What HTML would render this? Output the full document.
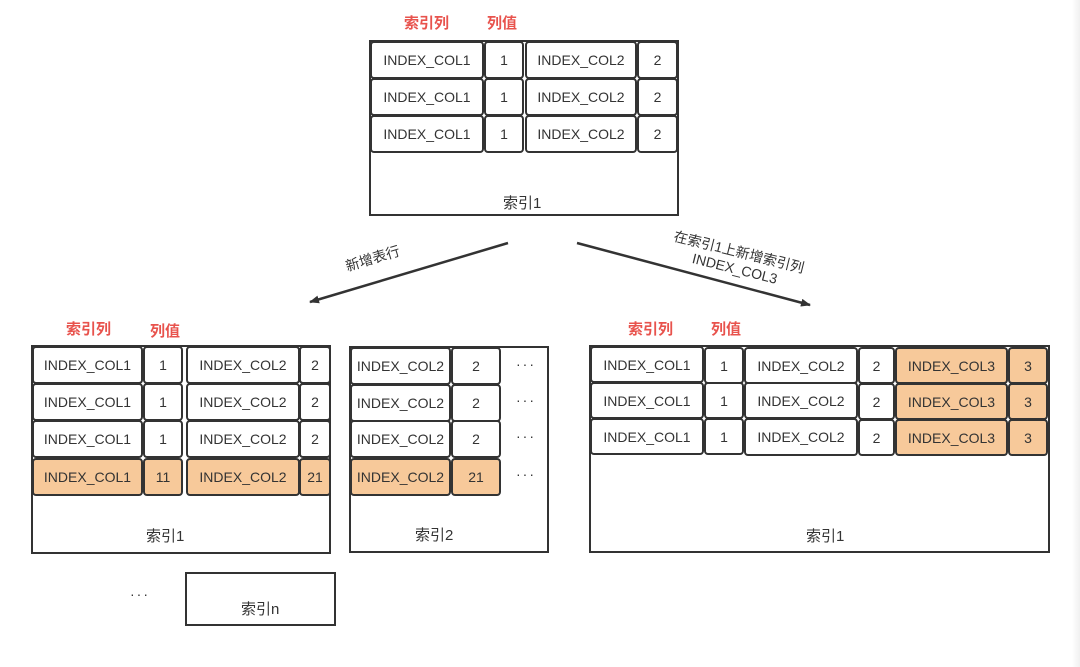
<!DOCTYPE html>
<html><head><meta charset="utf-8"><style>
body{margin:0;width:1080px;height:667px;background:#fff;position:relative;overflow:hidden;font-family:"Liberation Sans","Noto Sans CJK SC",sans-serif;color:#333}
.b{position:absolute;border:2px solid #333;box-sizing:border-box;background:#fff}
.c{position:absolute;border:2px solid #333;border-radius:4px;box-sizing:border-box;background:#fff;display:flex;align-items:center;justify-content:center;font-size:14px;color:#333}
.o{background:#f7c99a}
.t{position:absolute;font-size:15px;color:#333}
.r{position:absolute;font-size:15px;color:#e8534d;font-weight:bold}
.d{position:absolute;font-size:14px;letter-spacing:2px;color:#333}
</style></head><body>
<div style="position:absolute;right:0;top:0;width:8px;height:667px;background:linear-gradient(to right,#fff,#f0f0f0)"></div>
<div class="r" style="left:404px;top:12px">索引列</div><div class="r" style="left:487px;top:12px">列值</div>
<div class="b" style="left:369px;top:40px;width:310px;height:176px"></div>
<div class="c" style="left:370px;top:41px;width:114px;height:38px">INDEX_COL1</div><div class="c" style="left:484px;top:41px;width:40px;height:38px">1</div><div class="c" style="left:525px;top:41px;width:112px;height:38px">INDEX_COL2</div><div class="c" style="left:637px;top:41px;width:41px;height:38px">2</div>
<div class="c" style="left:370px;top:78px;width:114px;height:38px">INDEX_COL1</div><div class="c" style="left:484px;top:78px;width:40px;height:38px">1</div><div class="c" style="left:525px;top:78px;width:112px;height:38px">INDEX_COL2</div><div class="c" style="left:637px;top:78px;width:41px;height:38px">2</div>
<div class="c" style="left:370px;top:115px;width:114px;height:38px">INDEX_COL1</div><div class="c" style="left:484px;top:115px;width:40px;height:38px">1</div><div class="c" style="left:525px;top:115px;width:112px;height:38px">INDEX_COL2</div><div class="c" style="left:637px;top:115px;width:41px;height:38px">2</div>
<div class="t" style="left:503px;top:192px">索引1</div>

<svg width="1080" height="667" style="position:absolute;left:0;top:0">
<defs><marker id="a" markerWidth="10" markerHeight="8" refX="9" refY="4" orient="auto" markerUnits="userSpaceOnUse" viewBox="0 0 10 8"><path d="M0,0L10,4L0,8z" fill="#333"/></marker></defs>
<line x1="508" y1="243" x2="310" y2="302" stroke="#333" stroke-width="2.5" marker-end="url(#a)"/>
<line x1="577" y1="243" x2="810" y2="305" stroke="#333" stroke-width="2.5" marker-end="url(#a)"/>
<g marker-end=""></g>
</svg>
<div class="t" style="left:343px;top:257px;font-size:14px;transform:rotate(-17deg);transform-origin:left top">新增表行</div>
<div class="t" style="left:676px;top:228px;font-size:14px;transform:rotate(14deg);transform-origin:left top;text-align:center;line-height:17px">在索引1上新增索引列<br>INDEX_COL3</div>

<div class="r" style="left:66px;top:318px">索引列</div><div class="r" style="left:150px;top:320px">列值</div>
<div class="b" style="left:31px;top:345px;width:300px;height:209px"></div>
<div class="c" style="left:32px;top:346px;width:111px;height:38px">INDEX_COL1</div><div class="c" style="left:143px;top:346px;width:40px;height:38px">1</div><div class="c" style="left:186px;top:346px;width:114px;height:38px">INDEX_COL2</div><div class="c" style="left:299px;top:346px;width:32px;height:38px">2</div>
<div class="c" style="left:32px;top:383px;width:111px;height:38px">INDEX_COL1</div><div class="c" style="left:143px;top:383px;width:40px;height:38px">1</div><div class="c" style="left:186px;top:383px;width:114px;height:38px">INDEX_COL2</div><div class="c" style="left:299px;top:383px;width:32px;height:38px">2</div>
<div class="c" style="left:32px;top:420px;width:111px;height:38px">INDEX_COL1</div><div class="c" style="left:143px;top:420px;width:40px;height:38px">1</div><div class="c" style="left:186px;top:420px;width:114px;height:38px">INDEX_COL2</div><div class="c" style="left:299px;top:420px;width:32px;height:38px">2</div>
<div class="c o" style="left:32px;top:458px;width:111px;height:38px">INDEX_COL1</div><div class="c o" style="left:143px;top:458px;width:40px;height:38px">11</div><div class="c o" style="left:186px;top:458px;width:114px;height:38px">INDEX_COL2</div><div class="c o" style="left:299px;top:458px;width:32px;height:38px">21</div>
<div class="t" style="left:146px;top:525px">索引1</div>

<div class="b" style="left:349px;top:346px;width:200px;height:207px"></div>
<div class="c" style="left:350px;top:347px;width:101px;height:38px">INDEX_COL2</div><div class="c" style="left:451px;top:347px;width:50px;height:38px">2</div>
<div class="c" style="left:350px;top:384px;width:101px;height:38px">INDEX_COL2</div><div class="c" style="left:451px;top:384px;width:50px;height:38px">2</div>
<div class="c" style="left:350px;top:420px;width:101px;height:38px">INDEX_COL2</div><div class="c" style="left:451px;top:420px;width:50px;height:38px">2</div>
<div class="c o" style="left:350px;top:458px;width:101px;height:38px">INDEX_COL2</div><div class="c o" style="left:451px;top:458px;width:50px;height:38px">21</div>
<div class="d" style="left:516px;top:356px">···</div><div class="d" style="left:516px;top:392px">···</div><div class="d" style="left:516px;top:428px">···</div><div class="d" style="left:516px;top:466px">···</div>
<div class="t" style="left:415px;top:524px">索引2</div>

<div class="d" style="left:130px;top:586px">···</div>
<div class="b" style="left:185px;top:572px;width:151px;height:54px"></div>
<div class="t" style="left:241px;top:598px">索引n</div>

<div class="r" style="left:628px;top:318px">索引列</div><div class="r" style="left:711px;top:318px">列值</div>
<div class="b" style="left:589px;top:345px;width:461px;height:208px"></div>
<div class="c" style="left:590px;top:346px;width:114px;height:37px">INDEX_COL1</div><div class="c" style="left:704px;top:347px;width:40px;height:37px">1</div><div class="c" style="left:744px;top:347px;width:114px;height:37px">INDEX_COL2</div><div class="c" style="left:858px;top:347px;width:37px;height:37px">2</div><div class="c o" style="left:895px;top:347px;width:113px;height:37px">INDEX_COL3</div><div class="c o" style="left:1008px;top:347px;width:40px;height:37px">3</div>
<div class="c" style="left:590px;top:382px;width:114px;height:37px">INDEX_COL1</div><div class="c" style="left:704px;top:382px;width:40px;height:37px">1</div><div class="c" style="left:744px;top:382px;width:114px;height:37px">INDEX_COL2</div><div class="c" style="left:858px;top:383px;width:37px;height:37px">2</div><div class="c o" style="left:895px;top:383px;width:113px;height:37px">INDEX_COL3</div><div class="c o" style="left:1008px;top:383px;width:40px;height:37px">3</div>
<div class="c" style="left:590px;top:418px;width:114px;height:37px">INDEX_COL1</div><div class="c" style="left:704px;top:418px;width:40px;height:37px">1</div><div class="c" style="left:744px;top:418px;width:114px;height:38px">INDEX_COL2</div><div class="c" style="left:858px;top:419px;width:37px;height:37px">2</div><div class="c o" style="left:895px;top:419px;width:113px;height:37px">INDEX_COL3</div><div class="c o" style="left:1008px;top:419px;width:40px;height:37px">3</div>
<div class="t" style="left:806px;top:525px">索引1</div>
</body></html>
